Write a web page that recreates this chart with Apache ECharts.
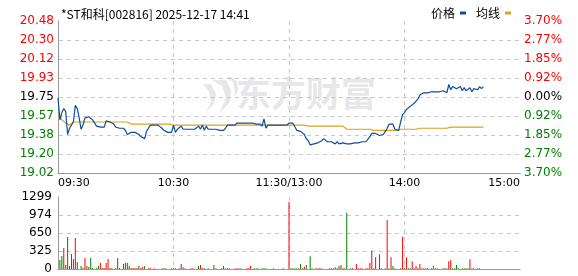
<!DOCTYPE html>
<html><head><meta charset="utf-8">
<script src="https://cdn.jsdelivr.net/npm/echarts@6/dist/echarts.min.js"></script>
<style>html,body{margin:0;padding:0;background:#fff;}#c{width:578px;height:276px;}</style>
</head><body><div id="c"></div>
<script>
// ---- data ----
const titleText = '*ST和科[002816] 2025-12-17 14:41';
const prevClose = 19.75;
const priceMin = 19.02;
const priceStep = 0.1825;
const priceTicks = ['19.02','19.20','19.38','19.57','19.75','19.93','20.12','20.30','20.48'];
const pctTicks = ['3.70%','2.77%','1.85%','0.92%','0.00%','0.92%','1.85%','2.77%','3.70%'];
const timeTicks = ['09:30','10:30','11:30/13:00','14:00','15:00'];
const volTicks = ['0','325','650','974','1299'];
const volMax = 1299;
const minutesTotal = 240;

const price = [
19.74,19.53,19.60,19.64,19.61,19.39,19.45,19.48,19.51,19.67,
19.64,19.55,19.44,19.48,19.55,19.56,19.56,19.56,19.53,19.52,
19.47,19.46,19.46,19.46,19.46,19.52,19.52,19.51,19.50,19.49,
19.46,19.46,19.45,19.45,19.45,19.43,19.39,19.40,19.41,19.41,
19.41,19.40,19.39,19.37,19.36,19.35,19.42,19.45,19.48,19.48,
19.48,19.48,19.48,19.47,19.45,19.43,19.42,19.41,19.41,19.41,
19.48,19.41,19.44,19.44,19.47,19.44,19.44,19.44,19.44,19.44,
19.44,19.44,19.44,19.47,19.44,19.48,19.43,19.47,19.44,19.44,
19.44,19.44,19.44,19.43,19.43,19.43,19.43,19.45,19.48,19.48,
19.48,19.48,19.48,19.50,19.50,19.50,19.49,19.50,19.50,19.50,
19.49,19.50,19.50,19.49,19.49,19.49,19.47,19.54,19.45,19.48,
19.48,19.48,19.48,19.48,19.48,19.48,19.48,19.48,19.48,19.48,
19.50,19.50,19.50,19.49,19.43,19.43,19.42,19.41,19.39,19.35,
19.33,19.29,19.29,19.30,19.31,19.31,19.31,19.33,19.35,19.35,
19.32,19.31,19.32,19.31,19.30,19.32,19.30,19.31,19.31,19.30,
19.30,19.29,19.30,19.30,19.31,19.31,19.31,19.32,19.32,19.32,
19.32,19.33,19.37,19.40,19.40,19.40,19.39,19.38,19.38,19.39,
19.42,19.45,19.49,19.50,19.49,19.44,19.43,19.43,19.51,19.58,
19.60,19.63,19.64,19.66,19.67,19.69,19.71,19.73,19.77,19.78,
19.79,19.79,19.79,19.79,19.80,19.80,19.80,19.80,19.80,19.81,
19.81,19.81,19.79,19.87,19.82,19.85,19.84,19.83,19.84,19.85,
19.81,19.84,19.81,19.82,19.84,19.80,19.83,19.84,19.82,19.85,
19.83,19.85
];

const avgPrice = [
19.60,19.56,19.53,19.52,19.50,19.49,19.48,19.49,19.51,19.51,
19.51,19.51,19.51,19.51,19.51,19.51,19.51,19.51,19.51,19.51,
19.51,19.51,19.51,19.51,19.51,19.51,19.51,19.51,19.51,19.51,
19.51,19.51,19.51,19.51,19.51,19.51,19.51,19.51,19.49,19.49,
19.49,19.49,19.49,19.49,19.49,19.49,19.49,19.49,19.49,19.49,
19.49,19.49,19.49,19.49,19.49,19.49,19.49,19.49,19.49,19.49,
19.48,19.48,19.48,19.48,19.48,19.48,19.48,19.48,19.48,19.48,
19.48,19.48,19.48,19.48,19.48,19.48,19.48,19.48,19.48,19.48,
19.48,19.48,19.48,19.48,19.48,19.48,19.48,19.48,19.48,19.48,
19.48,19.48,19.48,19.48,19.48,19.48,19.48,19.48,19.48,19.48,
19.48,19.48,19.48,19.48,19.48,19.48,19.48,19.48,19.48,19.48,
19.48,19.48,19.48,19.48,19.48,19.48,19.48,19.48,19.48,19.48,
19.48,19.48,19.48,19.48,19.48,19.48,19.48,19.48,19.48,19.48,
19.47,19.47,19.47,19.47,19.47,19.47,19.47,19.47,19.47,19.47,
19.47,19.47,19.47,19.47,19.47,19.47,19.47,19.47,19.47,19.47,
19.44,19.44,19.44,19.44,19.44,19.44,19.44,19.44,19.44,19.44,
19.44,19.44,19.44,19.44,19.43,19.43,19.43,19.43,19.43,19.43,
19.43,19.43,19.43,19.43,19.43,19.43,19.43,19.43,19.44,19.44,
19.44,19.44,19.44,19.44,19.44,19.44,19.44,19.44,19.45,19.45,
19.45,19.45,19.45,19.45,19.45,19.45,19.45,19.45,19.45,19.45,
19.45,19.45,19.45,19.45,19.46,19.46,19.46,19.46,19.46,19.46,
19.46,19.46,19.46,19.46,19.46,19.46,19.46,19.46,19.46,19.46,
19.46,19.46
];

const volume = [
0,162,234,378,72,576,54,270,180,558,
126,0,54,24,198,54,36,198,24,0,
15,54,108,18,18,108,180,18,18,0,
18,198,18,0,90,108,108,54,18,18,
18,18,54,18,36,54,0,12,12,0,
12,0,0,0,15,15,15,0,0,15,
15,15,0,15,90,30,15,0,0,15,
15,0,0,54,72,15,15,0,15,0,
0,72,15,0,0,15,54,15,15,15,
0,0,15,15,15,15,0,0,15,15,
54,0,15,15,15,0,15,15,15,0,
0,0,15,0,0,0,0,15,0,0,
1210,15,15,15,15,15,89,15,41,71,
0,230,15,0,15,15,15,15,0,0,
0,15,15,15,30,15,53,71,15,15,
1015,0,15,15,0,89,15,15,15,0,
15,15,106,336,15,212,0,266,15,0,
15,885,15,212,53,15,0,0,15,584,
15,212,15,15,142,15,53,15,89,15,
15,15,15,0,15,53,15,15,0,0,
15,15,15,142,160,15,15,71,15,0,
15,15,15,15,177,15,15,0,15,15,
0,0
];
// r = up (red), g = down (green), - = none
const volDir =
  '-ggrggrrrr' + 'g-ggrrggg-' + 'ggrrrrrrr-' + 'ggr-rrggrr' + 'rrgrrg-rr-' +
  'r---ggg--r' + 'rr-rrgr--r' + 'r--grrg-g-' + '-gr--rrrrr' + '--rrrg--rr' +
  'r-ggg-ggg-' + '--r----r--' + 'rggggrgrrg' + '-gg-rrrr--' + '-ggrrgrgrr' +
  'g-gr-rrrr-' + 'rrrrgr-gg-' + 'rrgrgg--rr' + 'grggrrrgrr' + 'grg-rrgg--' +
  'rggrrgggg-' + 'ggggrgg-rr' + '--';

// ---- styles ----
const RED = '#ff0000', GREEN = '#008000', BLUE = '#0b4ea2', ORANGE = '#dca21c';
const GRID_LINE = '#c8c8c8', BORDER = '#999999';
const WM = '#e7e7eb';
const toStep = p => (p - priceMin) / priceStep;

const priceData = price.map((p, i) => [i, toStep(p)]);
const avgData = avgPrice.map((p, i) => [i, toStep(p)]);
const volData = [];
volume.forEach((v, i) => {
  if (v > 0) volData.push({ value: [i, v], itemStyle: { color: volDir[i] === 'r' ? RED : GREEN } });
});

const labColor = (v) => {
  const k = Math.round(Number(v));
  return k > 4 ? RED : (k < 4 ? GREEN : '#000');
};
const dash = { color: GRID_LINE, width: 1, type: [4, 4] };
const borderLine = { show: true, lineStyle: { color: BORDER, width: 1 } };

const baseGraphic = [
  { type: 'polygon', z: 0, silent: true, shape: { points: [[212,80],[222,86],[226,98],[219,114],[230,102],[231,90],[226,80]] }, style: { fill: WM } },
  { type: 'polygon', z: 0, silent: true, shape: { points: [[203,84],[209,92],[211,102],[206,112],[214,104],[216,94],[211,84]] }, style: { fill: WM } },
  { type: 'polygon', z: 0, silent: true, shape: { points: [[226,77],[233,82],[235,92],[234,98],[238,90],[237,82],[232,77]] }, style: { fill: WM } },
  {
    type: 'text', left: 236, top: 76, z: 0, silent: true,
    style: { text: '东方财富', fontSize: 35, fontWeight: 'bold', fill: WM, fontFamily: 'Noto Sans CJK SC' }
  }
];

const chart = echarts.init(document.getElementById('c'), null, { renderer: 'canvas' });
chart.setOption({
  animation: false,
  backgroundColor: '#fff',
  title: {
    text: titleText, left: 56, top: 3,
    textStyle: { fontSize: 12, fontWeight: 'normal', color: '#000', fontFamily: 'Noto Sans CJK SC' }
  },
  legend: {
    data: ['价格', '均线'], right: 62, top: 2, align: 'right', itemGap: 10,
    icon: 'rect', itemWidth: 6, itemHeight: 3,
    textStyle: { fontSize: 12, color: '#000', fontFamily: 'Noto Sans CJK SC' }
  },
  graphic: { elements: baseGraphic },
  grid: [
    { left: 58, right: 58, top: 21, height: 152 },
    { left: 58, right: 58, top: 197, height: 72 }
  ],
  xAxis: [
    {
      type: 'value', gridIndex: 0, min: 0, max: minutesTotal, interval: 60, position: 'bottom',
      axisLine: borderLine, axisTick: { show: false },
      splitLine: { show: true, showMinLine: false, showMaxLine: false, lineStyle: dash },
      axisLabel: {
        show: true, margin: 5, fontSize: 11, color: '#000', fontFamily: 'DejaVu Sans',
        alignMinLabel: 'left', alignMaxLabel: 'right',
        formatter: v => timeTicks[Math.round(v / 60)]
      }
    },
    {
      type: 'value', gridIndex: 0, min: 0, max: minutesTotal, position: 'top',
      axisLine: borderLine, axisTick: { show: false }, axisLabel: { show: false }, splitLine: { show: false }
    },
    {
      type: 'value', gridIndex: 1, min: 0, max: minutesTotal, interval: 60, position: 'bottom',
      axisLine: borderLine, axisTick: { show: false }, axisLabel: { show: false },
      splitLine: { show: true, showMinLine: false, showMaxLine: false, lineStyle: dash }
    },
    {
      type: 'value', gridIndex: 1, min: 0, max: minutesTotal, position: 'top',
      axisLine: borderLine, axisTick: { show: false }, axisLabel: { show: false }, splitLine: { show: false }
    }
  ],
  yAxis: [
    {
      type: 'value', gridIndex: 0, min: 0, max: 8, interval: 1, position: 'left',
      axisLine: borderLine, axisTick: { show: false }, splitLine: { show: false },
      axisLabel: {
        margin: 4, fontSize: 12, fontFamily: 'DejaVu Sans',
        formatter: v => priceTicks[Math.round(v)], color: labColor
      }
    },
    {
      type: 'value', gridIndex: 0, position: 'right', min: 0, max: 8, interval: 1,
      axisLine: borderLine, axisTick: { show: false }, splitLine: { show: false },
      axisLabel: {
        margin: 4, fontSize: 12, fontFamily: 'DejaVu Sans',
        formatter: v => pctTicks[Math.round(v)], color: labColor
      }
    },
    {
      type: 'value', gridIndex: 1, min: 0, max: volMax, interval: volMax / 4, position: 'left',
      axisLine: borderLine, axisTick: { show: false }, splitLine: { show: false },
      axisLabel: {
        margin: 6, fontSize: 12, fontFamily: 'DejaVu Sans', color: '#000',
        formatter: v => volTicks[Math.round(v / (volMax / 4))]
      }
    },
    {
      type: 'value', gridIndex: 1, min: 0, max: volMax, position: 'right',
      axisLine: borderLine, axisTick: { show: false }, axisLabel: { show: false }, splitLine: { show: false }
    }
  ],
  series: [
    {
      name: '均线', type: 'line', xAxisIndex: 0, yAxisIndex: 0, data: avgData,
      showSymbol: false, symbol: 'none', lineStyle: { color: ORANGE, width: 1.2 }, itemStyle: { color: ORANGE }, z: 3
    },
    {
      name: '价格', type: 'line', xAxisIndex: 0, yAxisIndex: 0, data: priceData,
      showSymbol: false, symbol: 'none', lineStyle: { color: BLUE, width: 1.2 }, itemStyle: { color: BLUE }, z: 4
    },
    {
      name: 'vol', type: 'bar', xAxisIndex: 2, yAxisIndex: 2, data: volData,
      barWidth: 1, barGap: '0%', z: 3
    }
  ]
});

// horizontal dashed guides at the inner tick levels, positioned through the axes' own scales
const guides = [];
function addGuide(finder, level) {
  const a = chart.convertToPixel(finder, [0, level]);
  const b = chart.convertToPixel(finder, [minutesTotal, level]);
  if (!a || !b) return;
  const y = Math.round(a[1]);
  for (let x = Math.round(a[0]) + 1; x < b[0] - 1; x += 8) {
    guides.push({
      type: 'rect', silent: true, z: 1,
      shape: { x: x, y: y, width: Math.min(4, b[0] - 1 - x), height: 1 },
      style: { fill: GRID_LINE }
    });
  }
}
priceTicks.slice(1, -1).forEach((t, i) => addGuide({ xAxisIndex: 0, yAxisIndex: 0 }, i + 1));
volTicks.slice(1, -1).forEach((t, i) => addGuide({ xAxisIndex: 2, yAxisIndex: 2 }, (i + 1) * volMax / 4));
chart.setOption({ graphic: { elements: baseGraphic.concat(guides) } });
</script></body></html>
